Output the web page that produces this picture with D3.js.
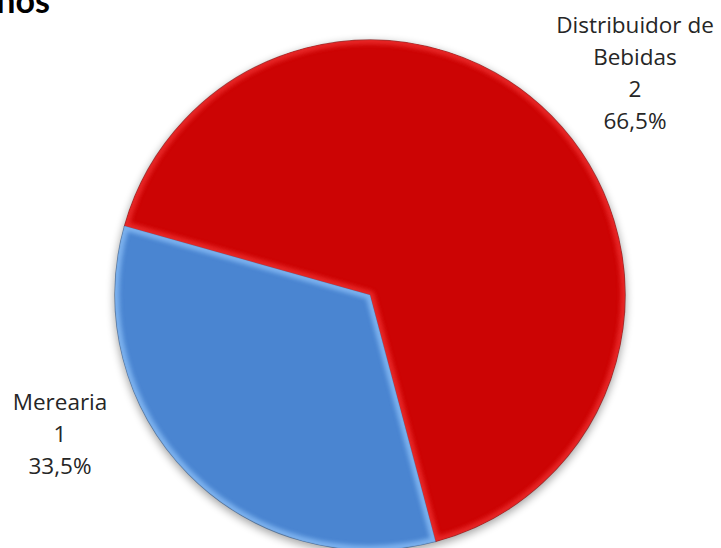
<!DOCTYPE html>
<html><head><meta charset="utf-8">
<script src="https://cdn.jsdelivr.net/npm/d3@7"></script>
<style>html,body{margin:0;padding:0;background:#fff;overflow:hidden;}</style>
</head><body>
<svg id="chart" width="721" height="548"></svg>
<script>
const categories = ["Distribuidor de Bebidas", "Merearia"];
const labelLines = [["Distribuidor de", "Bebidas"], ["Merearia"]];
const countValues = [2, 1];
const percentValues = [66.5, 33.5];
const percentLabels = ["66,5%", "33,5%"];
const colors = ["#CC0404", "#4A85D1"];
const highlights = ["#F03030", "#8CC0F8"];
const titleText = "nos";

const svg = d3.select("#chart");
const W = 721, H = 548;
const cx = 370, cy = 295, R = 255;

const defs = svg.append("defs");
const sh = defs.append("filter").attr("id","shadow").attr("x","-20%").attr("y","-20%").attr("width","140%").attr("height","140%");
sh.append("feGaussianBlur").attr("stdDeviation", 4);
const bl = defs.append("filter").attr("id","soft").attr("x","-10%").attr("y","-10%").attr("width","120%").attr("height","120%");
bl.append("feGaussianBlur").attr("stdDeviation", 2.2);

svg.append("text").attr("x", 50).attr("y", 13).attr("text-anchor","end")
  .attr("font-family","Lato, 'Open Sans', sans-serif").attr("font-weight","bold")
  .attr("font-size", 34).attr("fill","#000").text(titleText);

const pie = d3.pie().sort(null).value(d => d)
  .startAngle(-74.3 * Math.PI/180).endAngle((360 - 74.3) * Math.PI/180);
const arcs = pie(percentValues);
const arc = d3.arc().innerRadius(0).outerRadius(R);

const g = svg.append("g").attr("transform", `translate(${cx},${cy})`);

// shadow
g.append("circle").attr("cx", 0).attr("cy", 3).attr("r", R + 1)
  .attr("fill", "#000").attr("opacity", 0.35).attr("filter","url(#shadow)");

arcs.forEach((a, i) => {
  const id = "clip" + i;
  defs.append("clipPath").attr("id", id)
    .append("path").attr("d", arc(a)).attr("transform", `translate(${cx},${cy})`);
  g.append("path").attr("d", arc(a)).attr("fill", colors[i]);
  // bevel highlight
  svg.append("g").attr("clip-path", `url(#${id})`)
    .append("path").attr("transform", `translate(${cx},${cy})`)
    .attr("d", arc(a)).attr("fill","none").attr("stroke", highlights[i])
    .attr("stroke-width", 9).attr("stroke-linejoin","round").attr("opacity", 0.75)
    .attr("filter","url(#soft)");
  g.append("path").attr("d", arc(a)).attr("fill","none")
    .attr("stroke", d3.color(colors[i]).darker(1.2)).attr("stroke-width", 1.2).attr("opacity", 0.7);
});

// labels
const labelPos = [{x: 635, y: 33}, {x: 60, y: 410}];
const dyLine = 32;
arcs.forEach((a, i) => {
  const lines = labelLines[i].concat([String(countValues[i]), percentLabels[i]]);
  const t = svg.append("text").attr("text-anchor","middle")
    .attr("font-family","'Open Sans', Lato, sans-serif").attr("font-size", 22.5).attr("fill","#262626");
  lines.forEach((l, k) => {
    t.append("tspan").attr("x", labelPos[i].x).attr("y", labelPos[i].y + k * dyLine).text(l);
  });
});
</script>
</body></html>
